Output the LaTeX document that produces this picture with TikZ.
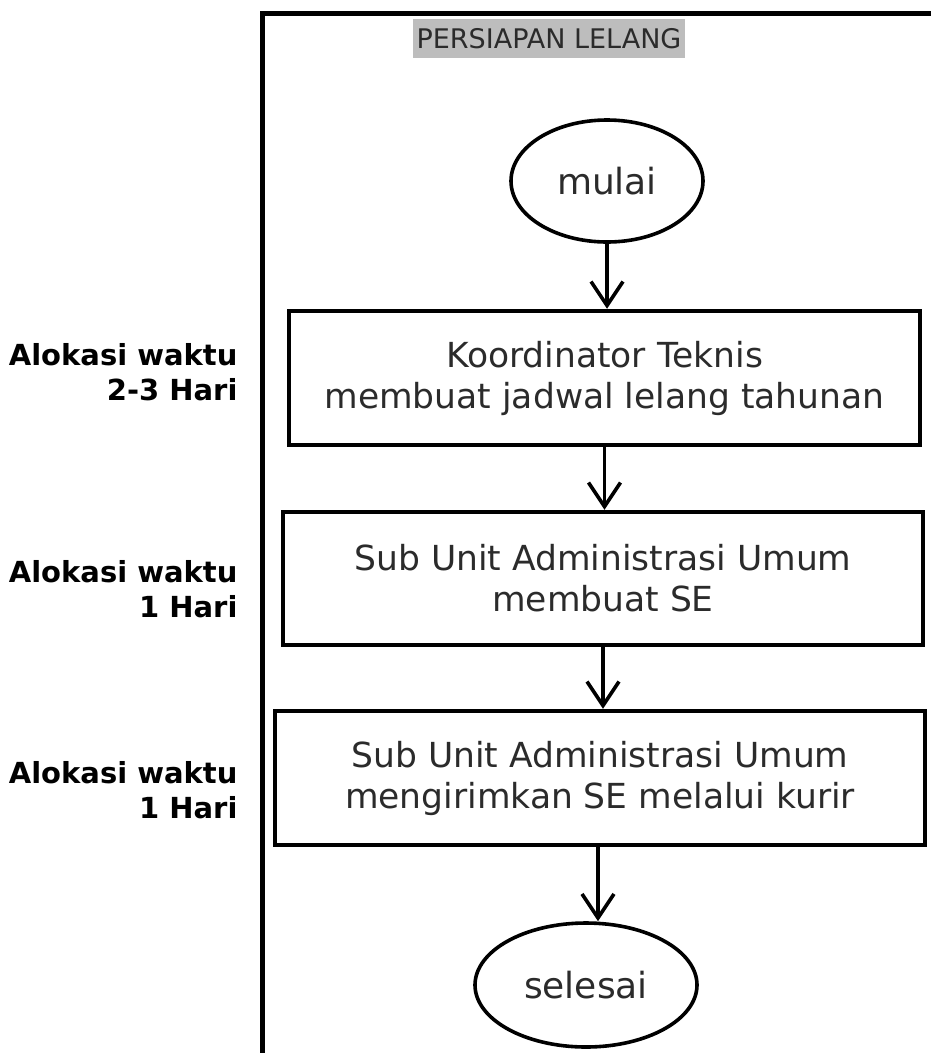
\documentclass[tikz,border=0pt]{standalone}
\usepackage{fontspec}
\setmainfont{DejaVu Sans}
\usetikzlibrary{shapes.geometric,arrows.meta}
\definecolor{txt}{HTML}{2B2B2B}
\definecolor{hdr}{HTML}{BDBDBD}
\tikzset{
  stepbox/.style={draw, line width=4.5pt, rectangle, align=center, text=txt, font=\fontsize{34.5}{41}\selectfont, inner sep=0pt},
  term/.style={draw, line width=3.6pt, ellipse, inner sep=0pt, text=txt, font=\fontsize{36}{40}\selectfont},
  flow/.style={line width=3.6pt, -{Straight Barb[length=24pt,width=32pt,line width=3.6pt]}},
  lbl/.style={align=right, anchor=east, font=\bfseries\fontsize{29}{35}\selectfont}
}
\begin{document}
\begin{tikzpicture}[x=1pt,y=-1pt]
\useasboundingbox (0,0) rectangle (931,1053);
% lane frame
\draw[line width=5pt] (262,1053) -- (262,13) -- (935,13);
\node[fill=hdr, text=txt, inner sep=0pt, minimum width=272pt, minimum height=39pt, font=\fontsize{27}{30}\selectfont] (hd) at (549,38.5) {PERSIAPAN LELANG};
% nodes
\node[term, minimum width=192pt, minimum height=122pt] (mulai) at (607,181) {mulai};
\node[stepbox, minimum width=631pt, minimum height=134pt] (k1) at (604.5,378) {Koordinator Teknis\\membuat jadwal lelang tahunan};
\node[stepbox, minimum width=640pt, minimum height=133pt] (k2) at (603,578.5) {Sub Unit Administrasi Umum\\membuat SE};
\node[stepbox, minimum width=650pt, minimum height=134pt] (k3) at (600,778) {Sub Unit Administrasi Umum\\mengirimkan SE melalui kurir};
\node[term, minimum width=222pt, minimum height=124pt] (sel) at (586,985) {selesai};
% connectors
\draw[flow] (mulai.south) -- (mulai.south |- k1.north);
\draw[flow] (k1.south) -- (k1.south |- k2.north);
\draw[flow] (k2.south) -- (k2.south |- k3.north);
\draw[flow] ([xshift=-2pt]k3.south) -- ([xshift=-2pt]k3.south |- sel.north);
% labels
\node[lbl] (l1) at (241,372) {Alokasi waktu\\2-3 Hari};
\node[lbl] (l2) at (241,589) {Alokasi waktu\\1 Hari};
\node[lbl] (l3) at (241,790) {Alokasi waktu\\1 Hari};
\end{tikzpicture}
\end{document}
